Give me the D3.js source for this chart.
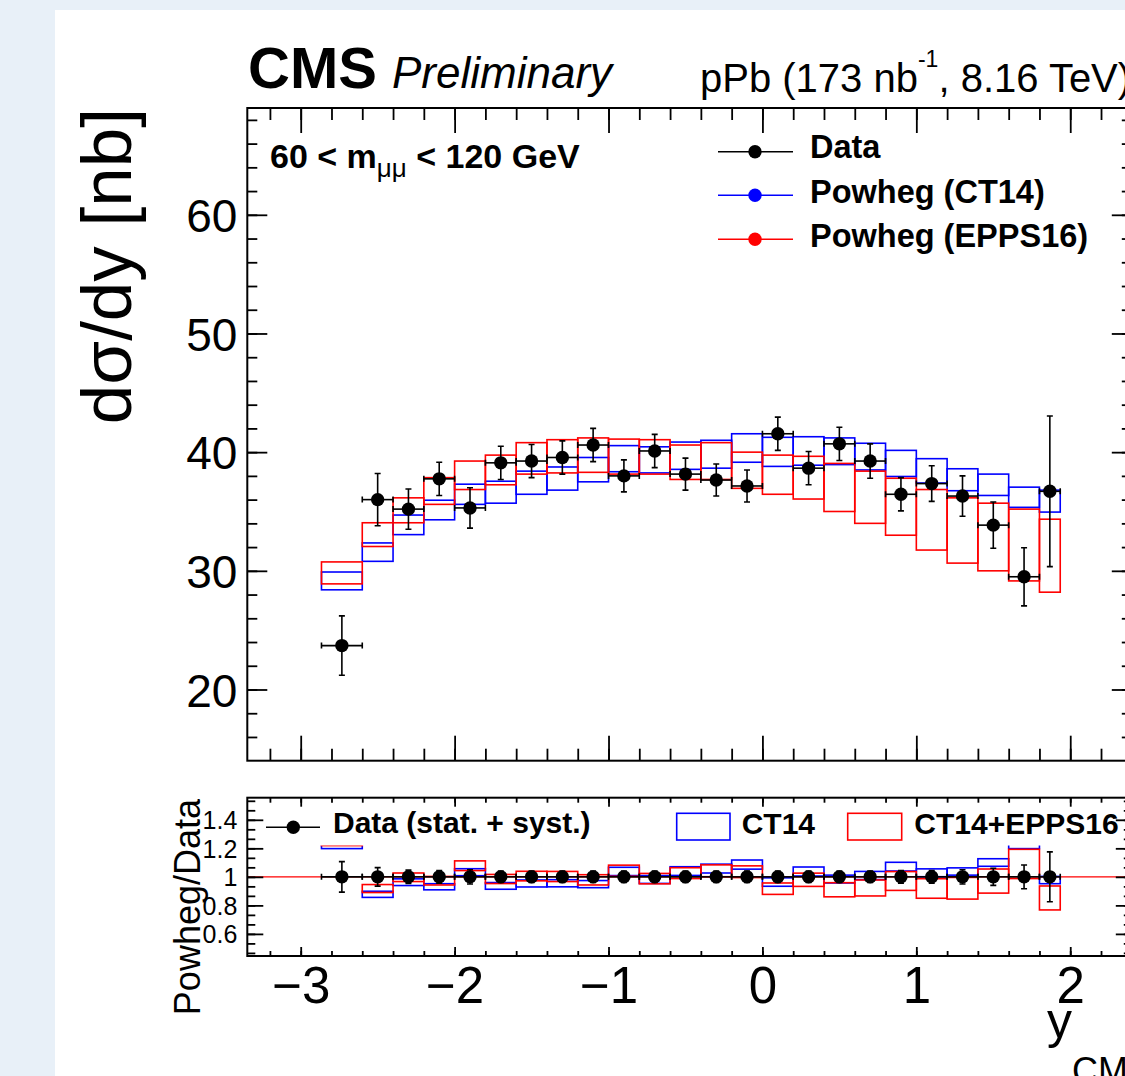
<!DOCTYPE html>
<html>
<head>
<meta charset="utf-8">
<script src="https://cdn.jsdelivr.net/npm/d3@7"></script>
<style>
body { margin: 0; background: #e8f0f8; }
svg { display: block; }
text { font-family: "Liberation Sans", Arial, Helvetica, sans-serif; fill: #000; }
</style>
</head>
<body>
<svg id="chart" width="1125" height="1076"></svg>
<script>
// y_CM bin edges (24 bins)
const binEdges = [-2.865, -2.6, -2.4, -2.2, -2.0, -1.8, -1.6, -1.4, -1.2, -1.0, -0.8, -0.6,
    -0.4, -0.2, 0.0, 0.2, 0.4, 0.6, 0.8, 1.0, 1.2, 1.4, 1.6, 1.8, 1.935];

// measured dsigma/dy [nb] and stat. error
const dataVals = [23.7, 36.0, 35.2, 37.75, 35.3, 39.1, 39.25, 39.55, 40.6, 38.0, 40.1, 38.15,
    37.65, 37.15, 41.55, 38.65, 40.7, 39.25, 36.45, 37.35, 36.3, 33.85, 29.5, 36.7];
const dataErr = [2.5, 2.2, 1.7, 1.4, 1.7, 1.4, 1.4, 1.4, 1.4, 1.35, 1.4, 1.35,
    1.35, 1.35, 1.4, 1.4, 1.4, 1.45, 1.4, 1.5, 1.7, 1.95, 2.45, 6.35];

// Powheg (CT14) band
const ct14Hi = [29.9, 32.35, 34.7, 35.95, 37.3, 37.55, 38.4, 38.75, 39.55, 40.55, 40.45, 40.85,
    41.0, 41.55, 41.25, 41.3, 41.2, 40.75, 40.15, 39.45, 38.6, 38.15, 37.05, 36.8];
const ct14Lo = [28.4, 30.8, 33.05, 34.3, 35.6, 35.7, 36.45, 36.8, 37.5, 38.35, 38.25, 38.55,
    38.65, 39.15, 38.8, 38.9, 38.95, 38.5, 37.95, 37.4, 36.75, 36.35, 35.35, 34.95];

// Powheg (EPPS16) band
const eppsHi = [30.75, 34.05, 36.15, 37.85, 39.25, 39.75, 40.8, 41.05, 41.2, 41.1, 41.05, 40.6,
    40.8, 40.0, 39.75, 39.65, 39.05, 38.4, 37.8, 36.85, 36.15, 35.7, 35.2, 34.35];
const eppsLo = [28.9, 32.05, 34.05, 35.6, 36.85, 37.25, 38.15, 38.25, 38.3, 38.15, 38.15, 37.7,
    37.7, 36.95, 36.45, 36.05, 35.0, 34.0, 33.0, 31.75, 30.65, 30.0, 29.15, 28.2];

// ratio panel (Powheg/Data)
const ratioCt14Hi = [1.262, 0.899, 0.986, 0.952, 1.057, 0.960, 0.978, 0.980, 0.974, 1.067, 1.009, 1.071,
    1.089, 1.118, 0.993, 1.069, 1.012, 1.038, 1.102, 1.056, 1.063, 1.127, 1.256, 1.003];
const ratioCt14Lo = [1.198, 0.856, 0.939, 0.909, 1.008, 0.913, 0.929, 0.930, 0.924, 1.009, 0.954, 1.010,
    1.027, 1.054, 0.934, 1.006, 0.957, 0.981, 1.041, 1.001, 1.012, 1.074, 1.198, 0.952];
const ratioEppsHi = [1.297, 0.946, 1.027, 1.003, 1.112, 1.017, 1.039, 1.038, 1.015, 1.082, 1.024, 1.064,
    1.084, 1.077, 0.957, 1.026, 0.959, 0.978, 1.037, 0.987, 0.996, 1.055, 1.193, 0.936];
const ratioEppsLo = [1.219, 0.890, 0.967, 0.943, 1.044, 0.953, 0.972, 0.967, 0.943, 1.004, 0.951, 0.988,
    1.001, 0.995, 0.877, 0.933, 0.860, 0.866, 0.905, 0.850, 0.844, 0.886, 0.988, 0.768];
const ratioErr = [0.107, 0.065, 0.047, 0.045, 0.05, 0.04, 0.04, 0.04, 0.04, 0.04, 0.04, 0.04,
    0.04, 0.04, 0.04, 0.04, 0.04, 0.04, 0.045, 0.045, 0.05, 0.06, 0.083, 0.175];

const xTicks = [-3, -2, -1, 0, 1, 2];
const yTicks = [20, 30, 40, 50, 60];
const ratioTicks = [0.6, 0.8, 1, 1.2, 1.4];
const ratioTickLabels = ["0.6", "0.8", "1", "1.2", "1.4"];

const BLUE = "#0000ff", RED = "#ff0000";

const svg = d3.select("#chart");
svg.append("rect").attr("x", 55).attr("y", 10).attr("width", 1070).attr("height", 1066).attr("fill", "#fff");

const x = d3.scaleLinear().domain([-3.347, 2.4]).range([247.3, 1131.8]);
const y = d3.scaleLinear().domain([14, 69]).range([760.7, 108]);
const yr = d3.scaleLinear().domain([0.445, 1.555]).range([956, 797.7]);

const bins = d3.range(dataVals.length).map(i => ({
    lo: binEdges[i], hi: binEdges[i + 1], c: (binEdges[i] + binEdges[i + 1]) / 2,
    v: dataVals[i], e: dataErr[i],
    bH: ct14Hi[i], bL: ct14Lo[i], rH: eppsHi[i], rL: eppsLo[i],
    rbH: ratioCt14Hi[i], rbL: ratioCt14Lo[i], rrH: ratioEppsHi[i], rrL: ratioEppsLo[i],
    re: ratioErr[i]
}));

function boxes(g, ys, hiKey, loKey, color) {
    g.selectAll(null).data(bins).enter().append("rect")
        .attr("x", d => x(d.lo))
        .attr("width", d => x(d.hi) - x(d.lo))
        .attr("y", d => ys(d[hiKey]))
        .attr("height", d => ys(d[loKey]) - ys(d[hiKey]))
        .attr("fill", "none")
        .attr("stroke", color)
        .attr("stroke-width", 1.6);
}

function points(g, ys, valFn, errFn) {
    let cap = 3;
    let pts = g.selectAll(null).data(bins).enter().append("g");
    pts.append("line")
        .attr("x1", d => x(d.lo)).attr("x2", d => x(d.hi))
        .attr("y1", d => ys(valFn(d))).attr("y2", d => ys(valFn(d)));
    pts.append("line")
        .attr("x1", d => x(d.c)).attr("x2", d => x(d.c))
        .attr("y1", d => ys(valFn(d) + errFn(d))).attr("y2", d => ys(valFn(d) - errFn(d)));
    // caps
    pts.append("path").attr("d", d => {
        let cx = x(d.c), cy = ys(valFn(d)), t = ys(valFn(d) + errFn(d)), b = ys(valFn(d) - errFn(d));
        return `M${cx - cap},${t}H${cx + cap}M${cx - cap},${b}H${cx + cap}` +
            `M${x(d.lo)},${cy - cap}V${cy + cap}M${x(d.hi)},${cy - cap}V${cy + cap}`;
    });
    pts.selectAll("line, path").attr("stroke", "#000").attr("stroke-width", 1.6).attr("fill", "none");
    pts.append("circle")
        .attr("cx", d => x(d.c)).attr("cy", d => ys(valFn(d)))
        .attr("r", 6.7).attr("fill", "#000");
}

// ---- top panel ----
const main = svg.append("g");
boxes(main, y, "bH", "bL", BLUE);
boxes(main, y, "rH", "rL", RED);
points(main, y, d => d.v, d => d.e);

// legend (top)
const legendItems = [
    { label: "Data", color: "#000", ty: 158.3, my: 151.7 },
    { label: "Powheg (CT14)", color: BLUE, ty: 203.3, my: 195.3 },
    { label: "Powheg (EPPS16)", color: RED, ty: 246.7, my: 239.3 }
];
legendItems.forEach(it => {
    main.append("line").attr("x1", 718).attr("x2", 793).attr("y1", it.my).attr("y2", it.my)
        .attr("stroke", it.color).attr("stroke-width", 1.4);
    main.append("circle").attr("cx", 755).attr("cy", it.my).attr("r", 6.7).attr("fill", it.color);
    main.append("text").attr("x", 810).attr("y", it.ty)
        .attr("font-size", 32.5).attr("font-weight", "bold").text(it.label);
});

let mt = main.append("text").attr("x", 270).attr("y", 168.3).attr("font-size", 34).attr("font-weight", "bold");
mt.append("tspan").text("60 < m");
mt.append("tspan").attr("dy", 9).attr("font-size", 26).attr("font-weight", "normal").text("μμ");
mt.append("tspan").attr("dy", -9).text(" < 120 GeV");

// ---- ratio panel ----
const ratio = svg.append("g");
ratio.append("line").attr("x1", x.range()[0]).attr("x2", x.range()[1])
    .attr("y1", yr(1)).attr("y2", yr(1)).attr("stroke", RED).attr("stroke-width", 1.2);
boxes(ratio, yr, "rbH", "rbL", BLUE);
boxes(ratio, yr, "rrH", "rrL", RED);
points(ratio, yr, d => 1, d => d.re);

// ratio legend
ratio.append("rect").attr("x", 250).attr("y", 799).attr("width", 866).attr("height", 46.5).attr("fill", "#fff");
ratio.append("line").attr("x1", 266).attr("x2", 320).attr("y1", 827.3).attr("y2", 827.3)
    .attr("stroke", "#000").attr("stroke-width", 1.4);
ratio.append("circle").attr("cx", 293.3).attr("cy", 827.3).attr("r", 6.7).attr("fill", "#000");
ratio.append("text").attr("x", 333).attr("y", 833).attr("font-size", 30).attr("font-weight", "bold")
    .text("Data (stat. + syst.)");
ratio.append("rect").attr("x", 676.7).attr("y", 813.3).attr("width", 53.3).attr("height", 26.7)
    .attr("fill", "none").attr("stroke", BLUE).attr("stroke-width", 1.6);
ratio.append("text").attr("x", 741.7).attr("y", 834).attr("font-size", 30).attr("font-weight", "bold").text("CT14");
ratio.append("rect").attr("x", 847.7).attr("y", 813.3).attr("width", 54).attr("height", 26.7)
    .attr("fill", "none").attr("stroke", RED).attr("stroke-width", 1.6);
ratio.append("text").attr("x", 914.3).attr("y", 834).attr("font-size", 30).attr("font-weight", "bold").text("CT14+EPPS16");

// ---- axes ----
const xMinor = d3.range(-16, 13).map(k => k / 5);
const yMinor = d3.range(8, 35).map(k => k * 2);
const rMinor = d3.range(7, 24).map(k => k / 15);

function axis(gen, tx, ty, fontSize) {
    let g = svg.append("g").attr("transform", `translate(${tx},${ty})`).call(gen);
    g.select(".domain").remove();
    g.attr("font-family", null).attr("font-size", null);
    g.selectAll(".tick line").attr("stroke", "#000").attr("stroke-width", 1.8);
    if (fontSize) g.selectAll(".tick text").attr("font-size", fontSize).attr("fill", "#000");
    return g;
}

const L = x.range()[0], R = x.range()[1];
// top panel
axis(d3.axisTop(x).tickValues(xTicks).tickSize(-25).tickFormat(""), 0, y.range()[1]);
axis(d3.axisTop(x).tickValues(xMinor).tickSize(-12).tickFormat(""), 0, y.range()[1]);
axis(d3.axisBottom(x).tickValues(xTicks).tickSize(-25).tickFormat(""), 0, y.range()[0]);
axis(d3.axisBottom(x).tickValues(xMinor).tickSize(-12).tickFormat(""), 0, y.range()[0]);
axis(d3.axisLeft(y).tickValues(yTicks).tickSize(-20).tickPadding(10), L, 0, 46)
    .selectAll(".tick text").attr("dy", "0.36em");
axis(d3.axisLeft(y).tickValues(yMinor).tickSize(-10).tickFormat(""), L, 0);
axis(d3.axisRight(y).tickValues(yTicks).tickSize(-20).tickFormat(""), R, 0);
axis(d3.axisRight(y).tickValues(yMinor).tickSize(-10).tickFormat(""), R, 0);

// ratio panel
axis(d3.axisTop(x).tickValues(xTicks).tickSize(-9).tickFormat(""), 0, yr.range()[1]);
axis(d3.axisTop(x).tickValues(xMinor).tickSize(-5).tickFormat(""), 0, yr.range()[1]);
axis(d3.axisBottom(x).tickValues(xTicks).tickSize(-9).tickPadding(11).tickFormat(d3.format("d")),
    0, yr.range()[0], 51);
axis(d3.axisBottom(x).tickValues(xMinor).tickSize(-5).tickFormat(""), 0, yr.range()[0]);
axis(d3.axisLeft(yr).tickValues(ratioTicks).tickSize(-16).tickPadding(10)
    .tickFormat((d, i) => ratioTickLabels[i]), L, 0, 25)
    .selectAll(".tick text").attr("dy", "0.36em");
axis(d3.axisLeft(yr).tickValues(rMinor).tickSize(-8).tickFormat(""), L, 0);
axis(d3.axisRight(yr).tickValues(ratioTicks).tickSize(-16).tickFormat(""), R, 0);
axis(d3.axisRight(yr).tickValues(rMinor).tickSize(-8).tickFormat(""), R, 0);

// frames
[[y.range()[1], y.range()[0]], [yr.range()[1], yr.range()[0]]].forEach(([t, b]) => {
    svg.append("rect").attr("x", L).attr("y", t).attr("width", R - L).attr("height", b - t)
        .attr("fill", "none").attr("stroke", "#000").attr("stroke-width", 2);
});

// ---- titles ----
svg.append("text").attr("x", 248).attr("y", 88).attr("font-size", 58).attr("font-weight", "bold").text("CMS");
svg.append("text").attr("x", 392).attr("y", 88).attr("font-size", 44).attr("font-style", "italic").text("Preliminary");
let lumi = svg.append("text").attr("x", 700).attr("y", 91.7).attr("font-size", 40);
lumi.append("tspan").text("pPb (173 nb");
lumi.append("tspan").attr("dy", -25).attr("font-size", 23).text("-1");
lumi.append("tspan").attr("dy", 25).text(", 8.16 TeV)");

svg.append("text").attr("transform", "translate(131,108) rotate(-90)")
    .attr("text-anchor", "end").attr("font-size", 71).text("dσ/dy [nb]");
svg.append("text").attr("transform", "translate(200,799) rotate(-90)")
    .attr("text-anchor", "end").attr("font-size", 36).text("Powheg/Data");

let xt = svg.append("text").attr("x", 1047).attr("y", 1038).attr("font-size", 50);
xt.append("tspan").text("y");
xt.append("tspan").attr("dy", 45).attr("font-size", 36).text("CM");
</script>
</body>
</html>
